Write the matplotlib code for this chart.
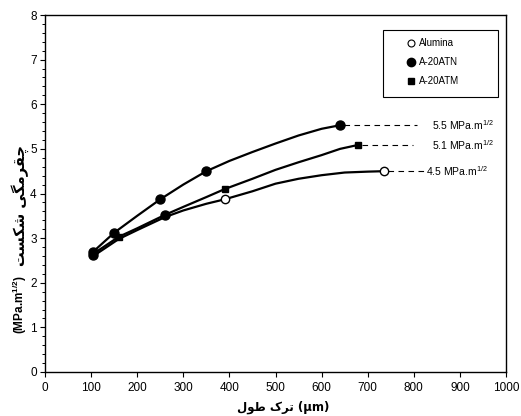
import numpy as np
import matplotlib
matplotlib.use("Agg")
from matplotlib import pyplot as plt
from matplotlib.patches import Rectangle
from matplotlib.lines import Line2D

plt.rcParams['font.family'] = ['Liberation Sans', 'DejaVu Sans']
plt.rcParams['mathtext.fontset'] = 'custom'
plt.rcParams['mathtext.rm'] = 'Liberation Sans'
plt.rcParams['mathtext.bf'] = 'Liberation Sans:bold'

# curves (crack length in um, toughness in MPa.m^1/2)
atn_x = [105, 150, 200, 250, 300, 350, 400, 450, 500, 550, 600, 640]
atn_y = [2.70, 3.12, 3.50, 3.87, 4.20, 4.50, 4.73, 4.93, 5.12, 5.30, 5.45, 5.53]
atm_x = [105, 160, 200, 260, 300, 350, 390, 450, 500, 550, 600, 640, 680]
atm_y = [2.65, 3.03, 3.22, 3.52, 3.70, 3.92, 4.10, 4.33, 4.53, 4.70, 4.86, 5.00, 5.09]
alu_x = [105, 160, 200, 260, 300, 350, 390, 450, 500, 550, 600, 650, 700, 735]
alu_y = [2.60, 2.98, 3.18, 3.47, 3.62, 3.77, 3.87, 4.05, 4.22, 4.33, 4.41, 4.47, 4.49, 4.50]

# measured points
atn_px = [105, 150, 250, 350, 640]
atn_py = [2.70, 3.12, 3.87, 4.50, 5.53]
atm_px = [160, 390, 680]
atm_py = [3.03, 4.10, 5.09]
alu_px = [390, 735]
alu_py = [3.87, 4.50]
blob_x = [105, 260]
blob_y = [2.62, 3.52]

end_x = [640, 680, 735]
end_y = [5.53, 5.09, 4.50]
end_lbl = ['5.5', '5.1', '4.5']

x_ticks = list(range(0, 1001, 100))
y_ticks = list(range(0, 9))

# presentation forms: iso, final, initial, medial
FORMS = {
    'ط': ('\ufec1', '\ufec2', '\ufec3', '\ufec4'),
    'و': ('\ufeed', '\ufeee', None, None),
    'ل': ('\ufedd', '\ufede', '\ufedf', '\ufee0'),
    'ت': ('\ufe95', '\ufe96', '\ufe97', '\ufe98'),
    'ر': ('\ufead', '\ufeae', None, None),
    'ک': ('\ufb8e', '\ufb8f', '\ufb90', '\ufb91'),
    'چ': ('\ufb7a', '\ufb7b', '\ufb7c', '\ufb7d'),
    'ق': ('\ufed5', '\ufed6', '\ufed7', '\ufed8'),
    'م': ('\ufee1', '\ufee2', '\ufee3', '\ufee4'),
    'گ': ('\ufb92', '\ufb93', '\ufb94', '\ufb95'),
    'ی': ('\ufbfc', '\ufbfd', '\ufbfe', '\ufbff'),
    'ش': ('\ufeb5', '\ufeb6', '\ufeb7', '\ufeb8'),
    'س': ('\ufeb1', '\ufeb2', '\ufeb3', '\ufeb4'),
}


def persian(s):
    # shape letters and reverse them, matplotlib has no bidi support
    out = []
    for i, c in enumerate(s):
        if c not in FORMS:
            out.append(c)
            continue
        prev = s[i - 1] if i > 0 else ''
        nxt = s[i + 1] if i + 1 < len(s) else ''
        j_prev = prev in FORMS and FORMS[prev][2] is not None
        j_next = nxt in FORMS and FORMS[c][2] is not None
        iso, fin, ini, med = FORMS[c]
        if j_prev and j_next:
            out.append(med)
        elif j_prev:
            out.append(fin)
        elif j_next:
            out.append(ini)
        else:
            out.append(iso)
    return ''.join(out)[::-1]


fig = plt.figure(figsize=(5.21, 4.16), dpi=100)
ax = fig.add_axes([45 / 521, 44 / 416, 461 / 521, 357 / 416])

ax.plot(alu_x, alu_y, color='black', lw=1.6)
ax.plot(atm_x, atm_y, color='black', lw=1.6)
ax.plot(atn_x, atn_y, color='black', lw=1.6)

ax.plot(atn_px, atn_py, 'o', color='black', ms=6.5)
ax.plot(blob_x, blob_y, 'o', color='black', ms=6.5)
ax.plot(atm_px, atm_py, 's', color='black', ms=4.8)
ax.plot(alu_px, alu_py, 'o', mfc='white', mec='black', mew=1.0, ms=6)

dash_to = [807, 798, 824]
text_at = [840, 840, 826]
for x, y, lbl, d, t in zip(end_x, end_y, end_lbl, dash_to, text_at):
    ax.plot([x + 8, d], [y, y], color='black', lw=0.8, dashes=(5, 4))
    ax.text(t, y, lbl + ' MPa.m$^{\\mathrm{1/2}}$', fontsize=7.5, va='center', ha='left')

ax.set_xlim(0, 1000)
ax.set_ylim(0, 8)
ax.set_xticks(x_ticks)
ax.set_yticks(y_ticks)
ax.set_yticks(np.arange(0, 8.01, 0.2), minor=True)
ax.tick_params(axis='both', which='major', direction='out', length=3.5, width=0.8, labelsize=8.5)
ax.tick_params(axis='y', which='major', pad=2.5)
ax.tick_params(axis='x', which='major', pad=4)
ax.tick_params(axis='y', which='minor', direction='out', length=2, width=0.7)
for sp in ax.spines.values():
    sp.set_linewidth(1.0)

# legend: frame drawn as a separate box
handles = [
    Line2D([], [], ls='none', marker='o', mfc='white', mec='black', ms=5, mew=0.8),
    Line2D([], [], ls='none', marker='o', color='black', ms=6),
    Line2D([], [], ls='none', marker='s', color='black', ms=5),
]
ax.legend(handles, ['Alumina', 'A-20ATN', 'A-20ATM'], loc='upper left',
          bbox_to_anchor=((406 - 45) / 461, (372 - 38) / 357), frameon=False,
          fontsize=7, handlelength=1.0, handletextpad=0.3, labelspacing=0.95,
          borderpad=0, borderaxespad=0)
ax.add_patch(Rectangle(((383 - 45) / 461, (372 - 97) / 357), 115 / 461, 67 / 357,
                       transform=ax.transAxes, fill=False, ec='black', lw=0.8))

# axis titles
fig.text(283 / 521, 1 - 407 / 416, persian('طول') + ' ' + persian('ترک') + ' (µm)',
         ha='center', va='center', fontsize=8.5, fontweight='bold', family=['DejaVu Sans'])
fig.text(20 / 521, 1 - 334 / 416, '(MPa.m$^{\\mathbf{1/2}}$)', rotation=90, ha='center', va='bottom',
         fontsize=8.5, fontweight='bold')
fig.text(20 / 521, 1 - 266 / 416, persian('چقرمگی شکست'), rotation=90, ha='center', va='bottom',
         fontsize=10.5, fontweight='bold', family=['DejaVu Sans'])

fig.savefig('out.png', dpi=100)
